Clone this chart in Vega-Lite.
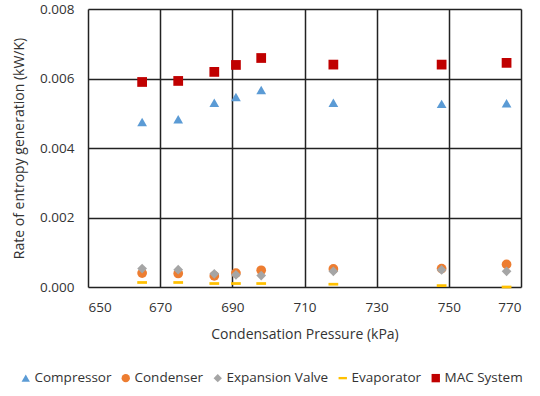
{
  "$schema": "https://vega.github.io/schema/vega-lite/v6.json",
  "width": 433,
  "height": 278,
  "autosize": "none",
  "padding": {"left": 88, "top": 9, "right": 19, "bottom": 109},
  "background": "white",
  "config": {
    "font": "Open Sans",
    "view": {"stroke": null}
  },
  "data": {
    "values": [
      {"series": "Compressor", "p": 665, "v": 0.00475},
      {"series": "Compressor", "p": 675, "v": 0.00483},
      {"series": "Compressor", "p": 685, "v": 0.0053},
      {"series": "Compressor", "p": 691, "v": 0.00547},
      {"series": "Compressor", "p": 698, "v": 0.00567},
      {"series": "Compressor", "p": 718, "v": 0.0053},
      {"series": "Compressor", "p": 748, "v": 0.00527},
      {"series": "Compressor", "p": 766, "v": 0.00529},
      {"series": "Condenser", "p": 665, "v": 0.0004},
      {"series": "Condenser", "p": 675, "v": 0.00039},
      {"series": "Condenser", "p": 685, "v": 0.00032},
      {"series": "Condenser", "p": 691, "v": 0.0004},
      {"series": "Condenser", "p": 698, "v": 0.00048},
      {"series": "Condenser", "p": 718, "v": 0.00052},
      {"series": "Condenser", "p": 748, "v": 0.00053},
      {"series": "Condenser", "p": 766, "v": 0.00065},
      {"series": "Expansion Valve", "p": 665, "v": 0.00053},
      {"series": "Expansion Valve", "p": 675, "v": 0.0005},
      {"series": "Expansion Valve", "p": 685, "v": 0.00038},
      {"series": "Expansion Valve", "p": 691, "v": 0.00035},
      {"series": "Expansion Valve", "p": 698, "v": 0.00033},
      {"series": "Expansion Valve", "p": 718, "v": 0.00045},
      {"series": "Expansion Valve", "p": 748, "v": 0.00049},
      {"series": "Expansion Valve", "p": 766, "v": 0.00045},
      {"series": "Evaporator", "p": 665, "v": 0.00013},
      {"series": "Evaporator", "p": 675, "v": 0.00013},
      {"series": "Evaporator", "p": 685, "v": 0.0001},
      {"series": "Evaporator", "p": 691, "v": 0.0001},
      {"series": "Evaporator", "p": 698, "v": 0.0001},
      {"series": "Evaporator", "p": 718, "v": 0.00008},
      {"series": "Evaporator", "p": 748, "v": 0.00004},
      {"series": "Evaporator", "p": 766, "v": 0.0},
      {"series": "MAC System", "p": 665, "v": 0.0059},
      {"series": "MAC System", "p": 675, "v": 0.00593},
      {"series": "MAC System", "p": 685, "v": 0.00619},
      {"series": "MAC System", "p": 691, "v": 0.00639},
      {"series": "MAC System", "p": 698, "v": 0.00659},
      {"series": "MAC System", "p": 718, "v": 0.0064},
      {"series": "MAC System", "p": 748, "v": 0.0064},
      {"series": "MAC System", "p": 766, "v": 0.00645}
    ]
  },
  "mark": {"type": "point", "filled": true, "opacity": 1, "size": 95, "clip": false},
  "encoding": {
    "x": {
      "field": "p", "type": "quantitative",
      "scale": {"domain": [650, 770], "nice": false, "zero": false},
      "axis": {
        "title": "Condensation Pressure (kPa)",
        "values": [650, 670, 690, 710, 730, 750, 770],
        "grid": true, "gridColor": "#222222", "gridWidth": 1.5,
        "domain": false, "ticks": false,
        "labelFontSize": 13.5, "labelColor": "#333333", "labelPadding": 13,
        "titleFontSize": 14, "titleFontWeight": "normal", "titleColor": "#333333", "titlePadding": 14
      }
    },
    "y": {
      "field": "v", "type": "quantitative",
      "scale": {"domain": [0, 0.008], "nice": false},
      "axis": {
        "title": "Rate of entropy generation (kW/K)",
        "values": [0, 0.002, 0.004, 0.006, 0.008],
        "format": ".3f",
        "grid": true, "gridColor": "#222222", "gridWidth": 1.5,
        "domain": false, "ticks": false,
        "labelFontSize": 13.5, "labelColor": "#333333", "labelPadding": 14,
        "titleFontSize": 14, "titleFontWeight": "normal", "titleColor": "#333333", "titlePadding": 13
      }
    },
    "color": {
      "field": "series", "type": "nominal",
      "scale": {
        "domain": ["Compressor", "Condenser", "Expansion Valve", "Evaporator", "MAC System"],
        "range": ["#5B9BD5", "#ED7D31", "#A5A5A5", "#FFC000", "#C00000"]
      },
      "legend": {
        "title": null, "orient": "none", "direction": "horizontal", "columns": 5,
        "legendX": -69, "legendY": 362,
        "labelFontSize": 13.5, "labelColor": "#333333", "symbolSize": 70,
        "columnPadding": 7, "labelOffset": 2
      }
    },
    "shape": {
      "field": "series", "type": "nominal",
      "scale": {
        "domain": ["Compressor", "Condenser", "Expansion Valve", "Evaporator", "MAC System"],
        "range": ["triangle-up", "circle", "diamond", "M-1,-0.28H1V0.28H-1Z", "square"]
      }
    },
    "order": {"field": "series", "sort": "ascending"}
  }
}
